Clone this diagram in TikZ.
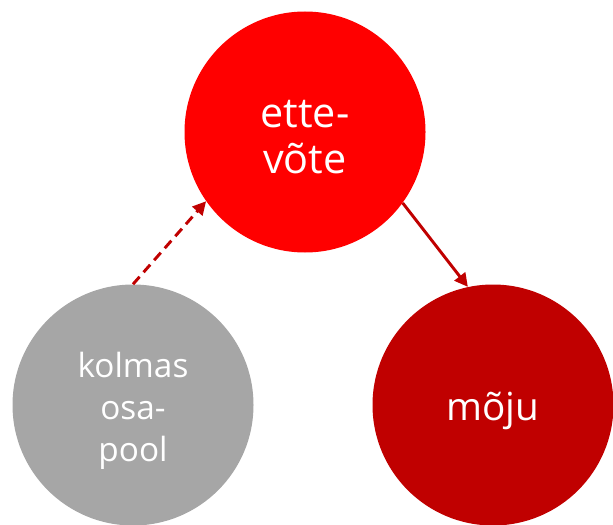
\documentclass[tikz,border=0pt]{standalone}
\usepackage{fontspec}
\setmainfont{Open Sans}
\usetikzlibrary{arrows.meta}
\definecolor{topred}{HTML}{FF0000}
\definecolor{darkred}{HTML}{C00000}
\definecolor{greyc}{HTML}{A6A6A6}
\begin{document}
\begin{tikzpicture}[x=0.75pt,y=-0.75pt,
  bubble/.style={circle,minimum size=180.75pt,inner sep=0pt},
  btext/.style={text=white,align=center,inner sep=0pt},
  link/.style={draw=darkred,line width=2.2pt,-{Triangle[length=10pt,width=10pt]}}]
\useasboundingbox (0,0) rectangle (613,524);
\node[bubble,fill=topred] (top) at (305,132) {};
\node[bubble,fill=greyc] (left) at (133,405) {};
\node[bubble,fill=darkred] (right) at (493,405) {};
\node[btext,font=\fontsize{31}{34}\selectfont] (toptext) at (305,137) {ette-\\võte};
\node[btext,font=\fontsize{25}{31.5}\selectfont] (lefttext) at (133,411) {kolmas\\osa-\\pool};
\node[btext,font=\fontsize{29}{34}\selectfont] (righttext) at (493,411) {mõju};
\draw[link,dash pattern=on 7.5pt off 4.5pt] (left.north) -- (top.215);
\draw[link] (top.-36) -- (right.102);
\end{tikzpicture}
\end{document}
